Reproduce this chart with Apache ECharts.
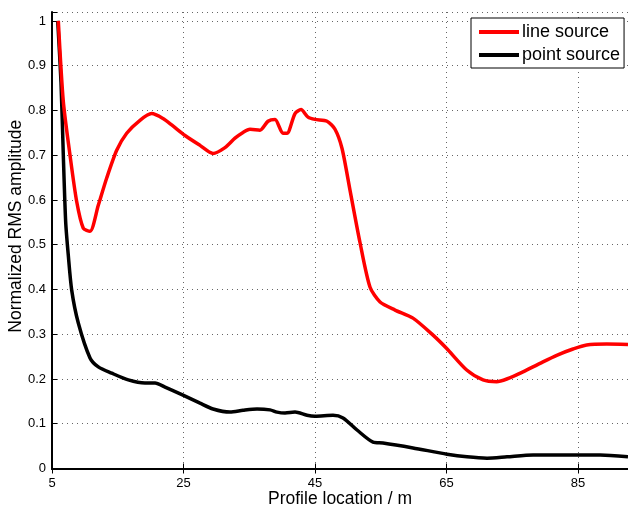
<!DOCTYPE html>
<html>
<head>
<meta charset="utf-8">
<script src="https://cdn.jsdelivr.net/npm/echarts@6/dist/echarts.min.js"></script>
<style>
  html, body { margin: 0; padding: 0; background: #fff; }
  #chart { width: 628px; height: 507px; }
</style>
</head>
<body>
<div id="chart"></div>
<script>
// Profile positions (m) and normalized RMS amplitude for each source type
const lineSourceX = [5.96, 6.72, 7.74, 8.76, 9.76, 10.78, 12.04, 13.32, 14.84, 16.36, 18.38, 20.16, 21.88, 23.25, 25.23, 27.51, 29.49, 31.31, 32.83, 34.05, 35.11, 36.63, 37.85, 38.92, 40.13, 40.74, 41.96, 42.87, 43.94, 45.0, 46.83, 48.04, 49.11, 50.32, 51.84, 53.37, 54.89, 57.17, 59.9, 62.95, 65.03, 68.07, 70.55, 72.63, 74.16, 76.63, 79.22, 81.76, 84.24, 86.32, 89.36, 92.6];
const lineSourceY = [1.0, 0.82, 0.70, 0.596, 0.537, 0.530, 0.588, 0.649, 0.711, 0.749, 0.778, 0.793, 0.782, 0.767, 0.744, 0.722, 0.704, 0.717, 0.738, 0.751, 0.758, 0.756, 0.776, 0.780, 0.749, 0.749, 0.793, 0.802, 0.785, 0.780, 0.776, 0.758, 0.715, 0.622, 0.505, 0.405, 0.372, 0.354, 0.336, 0.298, 0.268, 0.220, 0.198, 0.194, 0.200, 0.216, 0.235, 0.253, 0.267, 0.276, 0.278, 0.277];

const pointSourceX = [5.87, 6.37, 6.72, 7.08, 7.48, 8.0, 9.0, 10.78, 12.04, 14.08, 16.6, 19.14, 20.67, 22.19, 24.92, 27.51, 29.49, 32.07, 34.05, 36.18, 38.16, 39.22, 40.44, 41.96, 43.78, 45.0, 47.74, 49.26, 51.39, 53.82, 55.34, 59.9, 65.08, 68.12, 71.16, 74.2, 78.16, 83.33, 88.35, 92.6];
const pointSourceY = [1.0, 0.863, 0.70, 0.551, 0.476, 0.398, 0.325, 0.247, 0.227, 0.213, 0.198, 0.191, 0.191, 0.182, 0.164, 0.146, 0.133, 0.126, 0.130, 0.133, 0.131, 0.126, 0.124, 0.126, 0.119, 0.117, 0.119, 0.113, 0.086, 0.059, 0.057, 0.046, 0.032, 0.026, 0.023, 0.026, 0.030, 0.030, 0.030, 0.026];

const seriesNames = ['line source', 'point source'];
const xTicks = [5, 25, 45, 65, 85];
const yTicks = [0, 0.1, 0.2, 0.3, 0.4, 0.5, 0.6, 0.7, 0.8, 0.9, 1];

const pairs = (xs, ys) => xs.map((x, i) => [x, ys[i]]);
const FONT = 'Liberation Sans';
const gridDots = { color: '#666', width: 1, type: [1, 4] };
const isTick = (list, v) => list.some(t => Math.abs(t - v) < 1e-6);

const chart = echarts.init(document.getElementById('chart'), null, { renderer: 'canvas' });
chart.setOption({
  animation: false,
  backgroundColor: '#fff',
  textStyle: { fontFamily: FONT },
  grid: { left: 52, top: 12, right: 0, bottom: 38.5, containLabel: false, outerBoundsMode: 'none' },
  legend: {
    data: seriesNames,
    orient: 'vertical',
    left: 471,
    top: 18,
    padding: [5, 4, 4, 8],
    itemGap: 5,
    itemWidth: 40,
    itemHeight: 4,
    icon: 'rect',
    backgroundColor: '#fff',
    borderColor: '#000',
    borderWidth: 1,
    borderRadius: 0,
    textStyle: { fontFamily: FONT, fontSize: 18, color: '#000', padding: [0, 0, 0, -2], lineHeight: 18 }
  },
  xAxis: [{
    type: 'value',
    min: 5,
    max: 92.6,
    interval: 20,
    name: 'Profile location / m',
    nameLocation: 'middle',
    nameGap: 22,
    nameMoveOverlap: false,
    nameTextStyle: { fontFamily: FONT, fontSize: 17.5, color: '#000' },
    axisLine: { show: true, onZero: false, lineStyle: { color: '#000', width: 2 } },
    axisTick: { show: true, inside: true, length: 5, lineStyle: { color: '#000', width: 1 } },
    axisLabel: {
      fontFamily: FONT, fontSize: 13, color: '#000', margin: 8,
      formatter: v => isTick(xTicks, v) ? String(v) : ''
    },
    splitLine: { show: true, lineStyle: gridDots }
  }, {
    type: 'value',
    position: 'top',
    min: 5,
    max: 92.6,
    interval: 20,
    axisLine: { show: true, lineStyle: { color: '#000', width: 2 } },
    axisTick: { show: true, inside: true, length: 5, lineStyle: { color: '#000', width: 1 } },
    axisLabel: { show: false },
    splitLine: { show: false }
  }],
  yAxis: {
    type: 'value',
    min: 0,
    max: 1.02,
    interval: 0.1,
    name: 'Normalized RMS amplitude',
    nameLocation: 'middle',
    nameGap: 27,
    nameMoveOverlap: false,
    nameTextStyle: { fontFamily: FONT, fontSize: 17.5, color: '#000', padding: [0, 0, 0, 28] },
    axisLine: { show: true, lineStyle: { color: '#000', width: 2 } },
    axisTick: { show: true, inside: true, length: 5, lineStyle: { color: '#000', width: 1 } },
    axisLabel: {
      fontFamily: FONT, fontSize: 13, color: '#000', margin: 6,
      formatter: v => isTick(yTicks, v) ? String(+v.toFixed(1)) : ''
    },
    splitLine: { show: true, lineStyle: gridDots }
  },
  series: [{
    name: seriesNames[0],
    type: 'line',
    data: pairs(lineSourceX, lineSourceY),
    showSymbol: false,
    symbol: 'none',
    smooth: 0.25,
    color: '#ff0000',
    lineStyle: { color: '#ff0000', width: 3.5 },
    z: 3
  }, {
    name: seriesNames[1],
    type: 'line',
    data: pairs(pointSourceX, pointSourceY),
    showSymbol: false,
    symbol: 'none',
    smooth: 0.25,
    color: '#000',
    lineStyle: { color: '#000', width: 3.5 },
    z: 2
  }]
});
</script>
</body>
</html>
